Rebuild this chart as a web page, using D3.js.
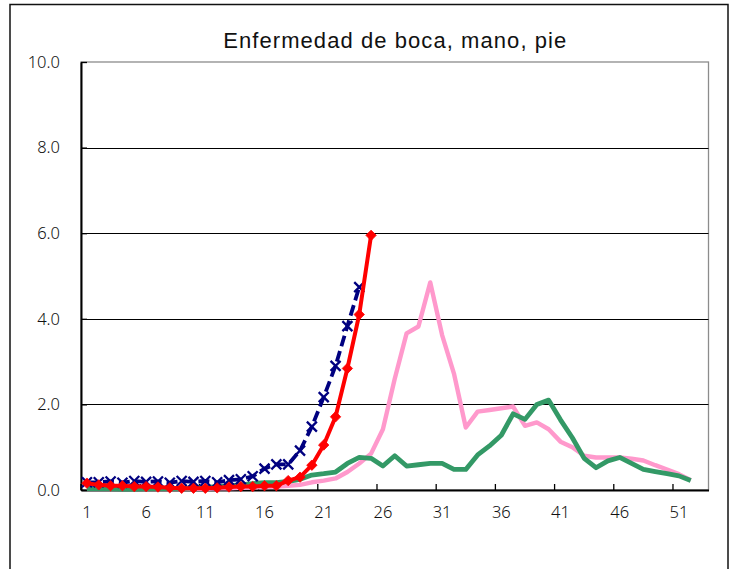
<!DOCTYPE html>
<html>
<head>
<meta charset="utf-8">
<script src="https://cdn.jsdelivr.net/npm/d3@7"></script>
<style>
  html, body { margin: 0; padding: 0; background: #fff; }
  svg { display: block; }
</style>
</head>
<body>
<div id="chart"></div>
<script>
// ---- data ----
const title = "Enfermedad de boca, mano, pie";
const weeks = d3.range(1, 54); // 53 weekly categories
const xTickLabels = [1, 6, 11, 16, 21, 26, 31, 36, 41, 46, 51];
const yTickValues = [0, 2, 4, 6, 8, 10];

const navySeries = [0.18,0.18,0.2,0.17,0.21,0.19,0.2,0.17,0.21,0.19,0.21,0.18,0.23,0.25,0.32,0.5,0.6,0.6,0.92,1.48,2.17,2.9,3.83,4.74];
const redSeries = [0.16,0.12,0.1,0.1,0.08,0.08,0.07,0.05,0.04,0.04,0.04,0.05,0.07,0.08,0.08,0.1,0.1,0.22,0.3,0.58,1.05,1.71,2.84,4.1,5.95];
const pinkSeries = [0.05,0.04,0.04,0.03,0.03,0.03,0.03,0.03,0.03,0.03,0.03,0.04,0.04,0.05,0.06,0.07,0.08,0.1,0.12,0.18,0.22,0.27,0.42,0.62,0.85,1.42,2.6,3.66,3.82,4.85,3.62,2.72,1.46,1.83,1.87,1.91,1.95,1.5,1.58,1.42,1.13,1.0,0.8,0.76,0.76,0.76,0.73,0.69,0.58,0.48,0.37,0.23];
const greenSeries = [0.03,0.03,0.03,0.02,0.02,0.03,0.03,0.03,0.04,0.05,0.06,0.08,0.1,0.12,0.15,0.17,0.17,0.2,0.25,0.35,0.38,0.42,0.62,0.76,0.74,0.56,0.8,0.56,0.59,0.62,0.62,0.48,0.48,0.82,1.03,1.28,1.78,1.65,2.0,2.1,1.64,1.22,0.74,0.52,0.68,0.76,0.62,0.48,0.43,0.38,0.33,0.22];

// ---- layout ----
const W = 739, H = 569;
const plot = { left: 81, right: 708.5, top: 62, bottom: 490 };
const labelFont = "'Noto Sans', Lato, sans-serif";

const svg = d3.select("#chart").append("svg")
  .attr("width", W).attr("height", H);

// outer chart frame
svg.append("rect")
  .attr("x", 10).attr("y", 4.5)
  .attr("width", 718).attr("height", 620)
  .attr("fill", "#fff").attr("stroke", "#111").attr("stroke-width", 1.5);

const x = d3.scaleBand().domain(weeks).range([plot.left, plot.right]).paddingInner(0).paddingOuter(0);
const y = d3.scaleLinear().domain([0, 10]).range([plot.bottom, plot.top]);
const cx = w => x(w) + x.bandwidth() / 2;

// plot area border (grey)
svg.append("rect")
  .attr("x", plot.left).attr("y", plot.top)
  .attr("width", plot.right - plot.left).attr("height", plot.bottom - plot.top)
  .attr("fill", "none").attr("stroke", "#8c8c8c").attr("stroke-width", 1.3);

// gridlines
svg.append("g").selectAll("line")
  .data(yTickValues.filter(v => v > 0 && v < 10))
  .join("line")
  .attr("x1", plot.left).attr("x2", plot.right)
  .attr("y1", d => Math.round(y(d)) + 0.5).attr("y2", d => Math.round(y(d)) + 0.5)
  .attr("stroke", "#000").attr("stroke-width", 1.2);

// y axis
const yAxis = svg.append("g")
  .attr("transform", `translate(${plot.left},0)`)
  .call(d3.axisLeft(y).tickValues(yTickValues).tickFormat(d3.format(".1f")).tickSizeOuter(0).tickSizeInner(-6).tickPadding(21));
yAxis.select(".domain").attr("stroke", "#000").attr("stroke-width", 2);
yAxis.selectAll(".tick line").attr("stroke", "#000").attr("stroke-width", 1.3);
yAxis.selectAll("text")
  .attr("font-family", labelFont).attr("font-weight", 300)
  .attr("font-size", 16.5).attr("fill", "#111");

// x axis (labels centered on categories)
const xAxis = svg.append("g")
  .attr("transform", `translate(0,${plot.bottom})`)
  .call(d3.axisBottom(x).tickValues(xTickLabels).tickSize(0).tickPadding(16));
xAxis.select(".domain").attr("stroke", "#000").attr("stroke-width", 2);
xAxis.selectAll("text")
  .attr("font-family", labelFont).attr("font-weight", 300)
  .attr("font-size", 16.5).attr("fill", "#111");

// x tick marks at category boundaries, every 5
svg.append("g").selectAll("line")
  .data(xTickLabels)
  .join("line")
  .attr("x1", d => x(d)).attr("x2", d => x(d))
  .attr("y1", plot.bottom).attr("y2", plot.bottom - 6)
  .attr("stroke", "#000").attr("stroke-width", 1.3);

// title
svg.append("text")
  .attr("x", (plot.left + plot.right) / 2).attr("y", 48)
  .attr("text-anchor", "middle")
  .attr("font-family", "'Liberation Sans', Arial, sans-serif")
  .attr("font-size", 22)
  .attr("textLength", 343).attr("lengthAdjust", "spacing")
  .attr("fill", "#111")
  .text(title);

// ---- series ----
const line = d3.line().x((d, i) => cx(weeks[i])).y(d => y(d));

svg.append("path").datum(pinkSeries)
  .attr("d", line).attr("fill", "none")
  .attr("stroke", "#ff99cc").attr("stroke-width", 4.4).attr("stroke-linejoin", "round");

svg.append("path").datum(greenSeries)
  .attr("d", line).attr("fill", "none")
  .attr("stroke", "#339966").attr("stroke-width", 4.8).attr("stroke-linejoin", "round");

// navy dashed with X markers
svg.append("path").datum(navySeries)
  .attr("d", line).attr("fill", "none")
  .attr("stroke", "#000080").attr("stroke-width", 3.8)
  .attr("stroke-dasharray", "11,5").attr("stroke-linejoin", "round");

const xm = 5;
svg.append("g").selectAll("path")
  .data(navySeries)
  .join("path")
  .attr("d", (d, i) => {
    const px = cx(weeks[i]), py = y(d);
    return `M${px - xm},${py - xm}L${px + xm},${py + xm}M${px - xm},${py + xm}L${px + xm},${py - xm}`;
  })
  .attr("stroke", "#000080").attr("stroke-width", 2.3).attr("fill", "none");

// red solid with diamond markers
svg.append("path").datum(redSeries)
  .attr("d", line).attr("fill", "none")
  .attr("stroke", "#ff0000").attr("stroke-width", 4).attr("stroke-linejoin", "round");

const dm = 5.2;
svg.append("g").selectAll("path")
  .data(redSeries)
  .join("path")
  .attr("d", (d, i) => {
    const px = cx(weeks[i]), py = y(d);
    return `M${px},${py - dm}L${px + dm},${py}L${px},${py + dm}L${px - dm},${py}Z`;
  })
  .attr("fill", "#ff0000").attr("stroke", "#ff0000").attr("stroke-width", 0.8);
</script>
</body>
</html>
